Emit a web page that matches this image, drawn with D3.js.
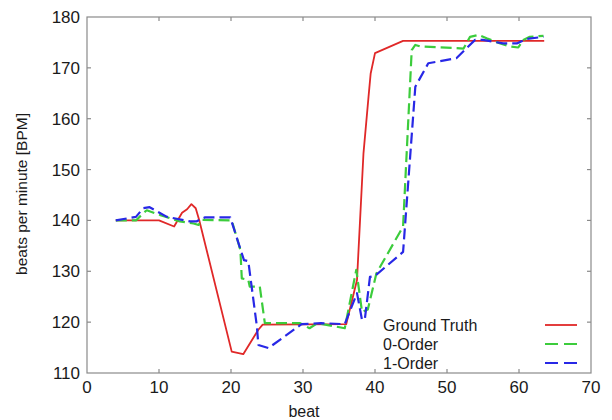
<!DOCTYPE html>
<html>
<head>
<meta charset="utf-8">
<script src="https://cdn.jsdelivr.net/npm/d3@7"></script>
<style>
  body { margin: 0; background: #fff; }
  text { font-family: "Liberation Sans", Arial, sans-serif; fill: #1a1a1a; }
</style>
</head>
<body>
<div id="chart"></div>
<script>
// ground truth heart rate
var gtBeat = [4, 10, 12.1, 13.2, 13.9, 14.5, 15.1, 15.6, 20.1, 21.7, 23.8, 24.4, 36, 37.5, 38.4, 39.1, 39.4, 40, 43.9, 63.5];
var gtBpm  = [140, 140, 138.8, 141.5, 142.2, 143.2, 142.4, 140, 114.2, 113.7, 118.5, 119.5, 119.6, 128.3, 153.2, 164.3, 168.9, 172.9, 175.3, 175.3];

// 0-order estimate
var zeroBeat = [4, 6.8, 7.8, 8.3, 10.1, 12.9, 14.8, 15.5, 15.9, 20.1, 21.3, 21.5, 22.4, 22.6, 24, 24.7, 29.6, 30.9, 32, 35.8, 37.4, 38.2, 39, 40.2, 43.9, 45.1, 45.6, 46.3, 52.3, 53.2, 54.4, 55.5, 57.4, 58.8, 59.9, 60.6, 61.5, 63.4];
var zeroBpm  = [140, 140, 141.4, 142, 141.1, 139.8, 139.4, 139.1, 140.1, 140, 134.2, 128.6, 128.3, 127, 127, 119.8, 119.8, 118.8, 119.8, 118.8, 130.3, 122, 122.5, 129.6, 138.8, 173.5, 174.5, 174.2, 173.8, 176.1, 176.5, 175.8, 174.8, 174.2, 174, 175.5, 176.1, 176.3];

// 1-order estimate
var oneBeat = [4, 6.8, 7.8, 8.7, 11.1, 14.3, 15.2, 15.7, 16.4, 19.9, 21.8, 22.4, 23.6, 23.8, 25.2, 29.8, 32.5, 35.8, 37.5, 38.2, 38.6, 39.3, 40, 43.9, 45.6, 47.4, 51.3, 53.9, 55, 57.8, 59.7, 61.1, 63.4];
var oneBpm  = [140, 140.7, 142.4, 142.6, 140.7, 139.8, 139.8, 140.2, 140.6, 140.6, 132.2, 132, 119.1, 115.5, 114.9, 119.6, 119.8, 119.6, 125.7, 120.4, 120.7, 128.9, 129.1, 133.8, 166.3, 170.9, 171.9, 175.5, 175.5, 174.8, 174.8, 175.7, 176.1];

var xTicks = [0, 10, 20, 30, 40, 50, 60, 70];
var yTicks = [110, 120, 130, 140, 150, 160, 170, 180];

var seriesNames = ["Ground Truth", "0-Order", "1-Order"];
var seriesColors = ["#e02828", "#3ccc3c", "#2828e6"];

var width = 612, height = 420;
var plot = {left: 87, right: 591, top: 17, bottom: 373};

var svg = d3.select("#chart").append("svg")
  .attr("width", width)
  .attr("height", height);

var x = d3.scaleLinear().domain([0, 70]).range([plot.left, plot.right]);
var y = d3.scaleLinear().domain([110, 180]).range([plot.bottom, plot.top]);

// frame
svg.append("rect")
  .attr("x", plot.left).attr("y", plot.top)
  .attr("width", plot.right - plot.left)
  .attr("height", plot.bottom - plot.top)
  .attr("fill", "none")
  .attr("stroke", "#8a8a8a")
  .attr("stroke-width", 1.2);

// inward ticks on all sides
var tickLen = 4;
var tickG = svg.append("g").attr("stroke", "#8a8a8a").attr("stroke-width", 1.2);
xTicks.slice(1, -1).forEach(function(t) {
  tickG.append("line").attr("x1", x(t)).attr("x2", x(t)).attr("y1", plot.bottom).attr("y2", plot.bottom - tickLen);
  tickG.append("line").attr("x1", x(t)).attr("x2", x(t)).attr("y1", plot.top).attr("y2", plot.top + tickLen);
});
yTicks.slice(1, -1).forEach(function(t) {
  tickG.append("line").attr("x1", plot.left).attr("x2", plot.left + tickLen).attr("y1", y(t)).attr("y2", y(t));
  tickG.append("line").attr("x1", plot.right).attr("x2", plot.right - tickLen).attr("y1", y(t)).attr("y2", y(t));
});

// tick labels
svg.append("g").selectAll("text")
  .data(xTicks).enter().append("text")
  .attr("x", function(d) { return x(d); })
  .attr("y", plot.bottom + 20)
  .attr("text-anchor", "middle")
  .style("font-size", "17px")
  .text(function(d) { return d; });

svg.append("g").selectAll("text")
  .data(yTicks).enter().append("text")
  .attr("x", plot.left - 7)
  .attr("y", function(d) { return y(d) + 6; })
  .attr("text-anchor", "end")
  .style("font-size", "17px")
  .text(function(d) { return d; });

// axis titles
svg.append("text")
  .attr("x", 304).attr("y", 417)
  .attr("text-anchor", "middle")
  .style("font-size", "16px")
  .text("beat");

svg.append("text")
  .attr("transform", "translate(27,194) rotate(-90)")
  .attr("text-anchor", "middle")
  .style("font-size", "15.5px")
  .text("beats per minute [BPM]");

// lines
var line = d3.line()
  .x(function(d) { return x(d[0]); })
  .y(function(d) { return y(d[1]); });

var series = [
  d3.zip(gtBeat, gtBpm),
  d3.zip(zeroBeat, zeroBpm),
  d3.zip(oneBeat, oneBpm)
];

series.forEach(function(s, i) {
  svg.append("path")
    .datum(s)
    .attr("d", line)
    .attr("fill", "none")
    .attr("stroke", seriesColors[i])
    .attr("stroke-width", i == 0 ? 1.8 : 2.2)
    .attr("stroke-linejoin", "round")
    .attr("stroke-dasharray", i == 0 ? null : "11,5");
});

// legend
var legend = svg.append("g");
seriesNames.forEach(function(name, i) {
  var ly = 325 + i * 19;
  legend.append("text")
    .attr("x", 383).attr("y", ly + 6)
    .style("font-size", "16px")
    .text(name);
  legend.append("line")
    .attr("x1", 545).attr("x2", 577)
    .attr("y1", ly).attr("y2", ly)
    .attr("stroke", seriesColors[i])
    .attr("stroke-width", i == 0 ? 1.8 : 2.2)
    .attr("stroke-dasharray", i == 0 ? null : "13,6");
});
</script>
</body>
</html>
